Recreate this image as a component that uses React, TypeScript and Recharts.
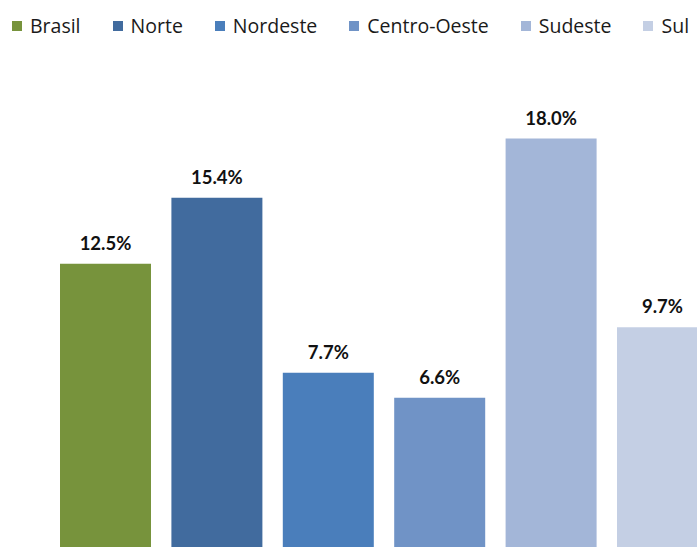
import { BarChart, Bar, XAxis, YAxis, Legend, LabelList } from "recharts";

const regions = ["Brasil", "Norte", "Nordeste", "Centro-Oeste", "Sudeste", "Sul"];
const values = [12.5, 15.4, 7.7, 6.6, 18.0, 9.7];
const colors = ["#77933C", "#416B9E", "#4A7EBB", "#7093C6", "#A3B6D8", "#C4CFE4"];

const row: Record<string, string | number> = { name: "2010" };
regions.forEach((r, i) => {
  row[r] = values[i];
});
const chartData = [row];

const LEGEND_FONT = "'Open Sans', Lato, sans-serif";
const LABEL_FONT = "Lato, 'Open Sans', sans-serif";

function renderLegend() {
  return (
    <div style={{ display: "flex", alignItems: "center", paddingLeft: 12, paddingTop: 14, fontFamily: LEGEND_FONT }}>
      {regions.map((r, i) => (
        <div key={r} style={{ display: "flex", alignItems: "center", marginRight: 32, whiteSpace: "nowrap" }}>
          <span style={{ width: 10, height: 10, background: colors[i], marginRight: 8, display: "inline-block" }} />
          <span style={{ fontSize: 19.5, color: "#1a1a1a", lineHeight: "24px" }}>{r}</span>
        </div>
      ))}
    </div>
  );
}

export default function App() {
  return (
    <div
      style={{
        position: "absolute",
        left: 0,
        top: 0,
        width: 697,
        height: 547,
        overflow: "hidden",
        background: "#fff",
      }}
    >
      <BarChart
        width={768}
        height={548}
        data={chartData}
        margin={{ top: 93, right: 0, left: 0, bottom: 0 }}
        barSize={91}
        barGap={20.4}
      >
        <XAxis dataKey="name" hide />
        <YAxis hide domain={[0, 20]} />
        <Legend
          verticalAlign="top"
          content={renderLegend}
          wrapperStyle={{ top: 0, left: 0, height: 0, overflow: "visible" }}
        />
        {regions.map((r, i) => (
          <Bar key={r} dataKey={r} fill={colors[i]} isAnimationActive={false}>
            <LabelList
              dataKey={r}
              position="top"
              offset={14}
              formatter={(v: number) => `${v.toFixed(1)}%`}
              style={{ fontFamily: LABEL_FONT, fontSize: 18.5, fontWeight: 700, fill: "#111" }}
            />
          </Bar>
        ))}
      </BarChart>
    </div>
  );
}
